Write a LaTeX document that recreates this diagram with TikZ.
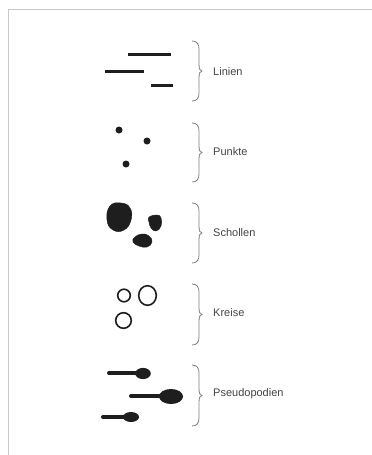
\documentclass[tikz,border=0pt]{standalone}
\usepackage{fontspec}
\setmainfont{Liberation Sans}
\begin{document}
\begin{tikzpicture}[x=1pt,y=-1pt,
  blob/.style={fill=ink,draw=ink},
  bar/.style={draw=ink,line width=3pt},
  ring/.style={draw=ink,line width=1.6pt},
  stalk/.style={draw=ink,line width=4pt,line cap=round},
  bracestyle/.style={draw=bracegray,line width=0.8pt},
  lbl/.style={anchor=west,inner sep=0pt,text=labelgray,font=\fontsize{11}{13}\selectfont}]
\definecolor{ink}{HTML}{1E1E1E}
\definecolor{framegray}{HTML}{C8C8C8}
\definecolor{bracegray}{HTML}{808080}
\definecolor{labelgray}{HTML}{444444}
\useasboundingbox (0,0) rectangle (372,455);
\fill[white] (0,0) rectangle (372,455);
% frame
\draw[framegray,line width=1pt] (8,455) -- (8,9) -- (372,9);
% brace macro
\newcommand\mybrace[2]{% top y, bottom y
  \pgfmathsetmacro\ymid{(#1+#2)/2}
  \draw[bracestyle] (192,#1) .. controls (197,#1) and (199,#1+3) .. (199,#1+8)
    -- (199,\ymid-7) .. controls (199,\ymid-2) and (200,\ymid) .. (202,\ymid)
    .. controls (200,\ymid) and (199,\ymid+2) .. (199,\ymid+7)
    -- (199,#2-8) .. controls (199,#2-3) and (197,#2) .. (192,#2);}
% Linien
\draw[bar] (128,54) -- (171,54);
\draw[bar] (105,71) -- (144,71);
\draw[bar] (151,85) -- (173,85);
\mybrace{41}{101}
\node[lbl] (linien) at (213,72) {Linien};
% Punkte
\fill[ink] (119,130) circle (3.5);
\fill[ink] (147,141) circle (3.5);
\fill[ink] (126,164) circle (3.5);
\mybrace{123}{182}
\node[lbl] (punkte) at (213,152) {Punkte};
% Schollen
\draw[blob] plot[smooth cycle,tension=0.8] coordinates {(110,206) (121,203) (130,208) (131,220) (124,230) (113,230) (107,220)};
\draw[blob] plot[smooth cycle,tension=0.8] coordinates {(149,217) (157,215) (161,218) (161,226) (156,231) (151,228) (149,222)};
\draw[blob] plot[smooth cycle,tension=0.8] coordinates {(135,237) (142,234) (149,236) (152,242) (147,247) (139,246) (133,242)};
\mybrace{203}{263}
\node[lbl] (schollen) at (213,233) {Schollen};
% Kreise
\draw[ring] (124,295.5) circle (6.3);
\draw[ring] (147.5,295.5) ellipse (8.8 and 9.8);
\draw[ring] (123.5,320.5) circle (7.8);
\mybrace{284}{345}
\node[lbl] (kreise) at (213,313) {Kreise};
% Pseudopodien
\draw[stalk] (109,373) -- (138,373);
\fill[ink] (143,373.5) ellipse (7.8 and 5.6);
\draw[stalk] (131,396) -- (165,396);
\fill[ink] (171,396.5) ellipse (12 and 7.5);
\draw[stalk] (103,417) -- (128,417);
\fill[ink] (131,417) ellipse (8 and 5);
\mybrace{365}{426}
\node[lbl] (pseudo) at (213,394) {Pseudopodien};
\end{tikzpicture}
\end{document}
